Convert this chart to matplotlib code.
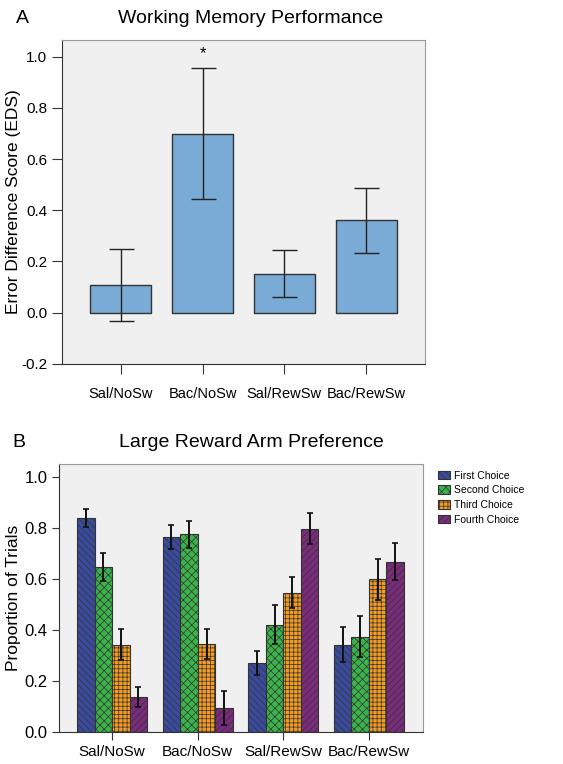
import numpy as np
import matplotlib
matplotlib.use("Agg")
import matplotlib.pyplot as plt

plt.rcParams['font.family'] = ['Liberation Sans', 'DejaVu Sans']
plt.rcParams['hatch.linewidth'] = 0.5

# panel A data
groups = ["Sal/NoSw", "Bac/NoSw", "Sal/RewSw", "Bac/RewSw"]
eds_mean = [0.107, 0.700, 0.149, 0.361]
eds_lo = [-0.034, 0.443, 0.059, 0.233]
eds_hi = [0.247, 0.955, 0.243, 0.486]

# panel B data
choices = ["First Choice", "Second Choice", "Third Choice", "Fourth Choice"]
pref_first = [0.839, 0.763, 0.271, 0.342]
pref_second = [0.646, 0.773, 0.420, 0.373]
pref_third = [0.342, 0.345, 0.545, 0.597]
pref_fourth = [0.135, 0.094, 0.796, 0.667]
err_first = [0.035, 0.046, 0.047, 0.068]
err_second = [0.055, 0.051, 0.075, 0.079]
err_third = [0.060, 0.059, 0.061, 0.079]
err_fourth = [0.039, 0.067, 0.060, 0.073]

colors = ["#3b4b9c", "#3cb34a", "#f59c1f", "#7a2b7c"]
hatches = ["\\\\\\\\\\", "xxxx", "++++", "/////"]

fig = plt.figure(figsize=(5.63, 7.64), dpi=100)

# ---- panel A ----
ax1 = fig.add_axes([0.110, 0.524, 0.645, 0.424])
ax1.set_facecolor("#f0f0f0")
x = np.arange(len(groups))
mean = np.array(eds_mean)
yerr = [mean - np.array(eds_lo), np.array(eds_hi) - mean]
ax1.bar(x, mean, width=0.75, color="#7aaad6", edgecolor="#333333", linewidth=1.0)
ax1.errorbar(x, mean, yerr=yerr, fmt="none", ecolor="#222222", elinewidth=1.0,
             capsize=9, capthick=1.0)
ax1.text(x[1], eds_hi[1] + 0.03, "*", ha="center", va="bottom", fontsize=12)
ax1.set_xlim(-0.72, 3.72)
ax1.set_ylim(-0.2, 1.067)
ax1.set_yticks([-0.2, 0.0, 0.2, 0.4, 0.6, 0.8, 1.0])
ax1.set_yticklabels(["-0.2", "0.0", "0.2", "0.4", "0.6", "0.8", "1.0"], fontsize=11)
ax1.set_xticks(x)
ax1.set_xticklabels(groups, fontsize=10.5)
ax1.set_ylabel("Error Difference Score (EDS)", fontsize=12.5)
ax1.yaxis.set_label_coords(-0.112, 0.5)
ax1.tick_params(axis="both", length=7, color="#333333")
ax1.tick_params(axis="x", pad=10)
for s in ["top", "right"]:
    ax1.spines[s].set_color("#999999")
for s in ["left", "bottom"]:
    ax1.spines[s].set_color("#333333")
fig.text(0.210, 0.976, "Working Memory Performance", ha="left", va="center", fontsize=14)
fig.text(0.028, 0.976, "A", ha="left", va="center", fontsize=14)

# ---- panel B ----
ax2 = fig.add_axes([0.105, 0.042, 0.646, 0.351])
ax2.set_facecolor("#f0f0f0")
bw = 0.205
series = [(pref_first, err_first), (pref_second, err_second),
          (pref_third, err_third), (pref_fourth, err_fourth)]
for i, (vals, errs) in enumerate(series):
    pos = x + (i - 1.5) * bw
    ax2.bar(pos, vals, width=bw, color=colors[i], edgecolor="#333333",
            hatch=hatches[i], linewidth=0.8, label=choices[i])
    ax2.errorbar(pos, vals, yerr=errs, fmt="none", ecolor="#111111",
                 elinewidth=1.4, capsize=2.5, capthick=1.2)
ax2.set_xlim(-0.62, 3.63)
ax2.set_ylim(0, 1.05)
ax2.set_yticks([0.0, 0.2, 0.4, 0.6, 0.8, 1.0])
ax2.set_yticklabels(["0.0", "0.2", "0.4", "0.6", "0.8", "1.0"], fontsize=12)
ax2.set_xticks(x)
ax2.set_xticklabels(groups, fontsize=11)
ax2.set_ylabel("Proportion of Trials", fontsize=12.5)
ax2.yaxis.set_label_coords(-0.105, 0.5)
ax2.tick_params(axis="y", length=5, color="#333333")
ax2.tick_params(axis="x", length=6, color="#333333")
for s in ["top", "right"]:
    ax2.spines[s].set_color("#999999")
for s in ["left", "bottom"]:
    ax2.spines[s].set_color("#333333")
leg = ax2.legend(loc="upper left", bbox_to_anchor=(1.03, 0.99), fontsize=7.5,
                 frameon=False, handlelength=1.2, handleheight=0.9,
                 handletextpad=0.3, labelspacing=0.45, borderaxespad=0)
fig.text(0.212, 0.421, "Large Reward Arm Preference", ha="left", va="center", fontsize=14)
fig.text(0.022, 0.421, "B", ha="left", va="center", fontsize=14)

fig.savefig("out.png", dpi=100)
